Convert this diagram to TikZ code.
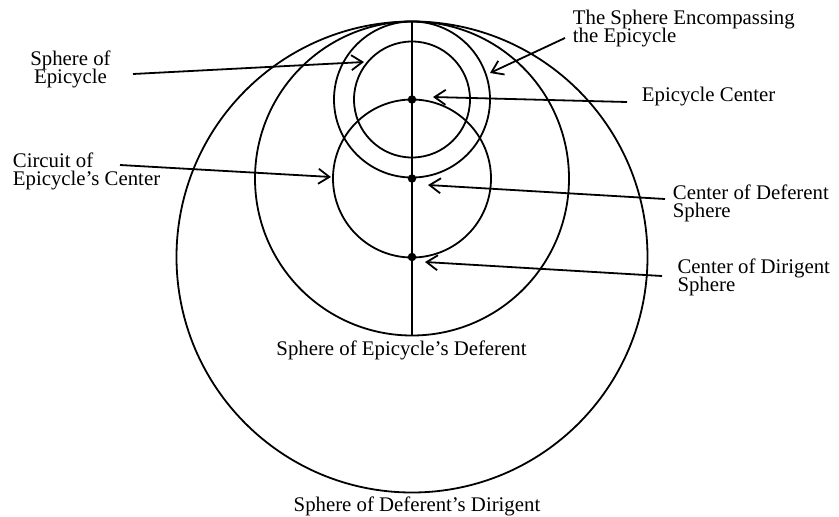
\documentclass[tikz,border=0pt]{standalone}
\usepackage{fontspec}
\setmainfont{Liberation Serif}
\usetikzlibrary{arrows.meta}
\lineskiplimit=-20pt
\begin{document}
\begin{tikzpicture}[x=1pt,y=-1pt,
  orb/.style={line width=1.8pt},
  lbl/.style={inner sep=0pt, font=\fontsize{20.8}{18}\selectfont},
  ptr/.style={line width=1.8pt, -{Straight Barb[length=11pt,width=15pt]}},
  dotm/.style={circle, fill, inner sep=0pt, minimum size=8.5pt}]
\useasboundingbox (0,0) rectangle (839,517);
\fill[white] (0,0) rectangle (839,517);
% centres
\coordinate (top) at (412,21.5);
\coordinate (bot) at (412,335);
\coordinate (ecc) at (412,99.5);
\coordinate (dcc) at (412,178.5);
\coordinate (gcc) at (412,257);
% circles
\draw[orb] (gcc) circle[radius=235.5pt];
\draw[orb] (dcc) circle[radius=157pt];
\draw[orb] (dcc) circle[radius=79pt];
\draw[orb] (ecc) circle[radius=78pt];
\draw[orb] (ecc) circle[radius=58pt];
\draw[orb] (top) -- (bot);
% centre dots
\node[dotm] (ec) at (ecc) {};
\node[dotm] (dc) at (dcc) {};
\node[dotm] (gc) at (gcc) {};
% labels (multi-line: anchor on last baseline)
\node[lbl, align=center, anchor=base] (l1) at (70.5,83.3) {Sphere of\\Epicycle};
\node[lbl, align=left, anchor=base west] (l2) at (572.7,42.7) {The Sphere Encompassing\\the Epicycle};
\node[lbl, anchor=base west] (l3) at (641.7,101.7) {Epicycle Center};
\node[lbl, align=left, anchor=base west] (l4) at (12.7,185) {Circuit of\\Epicycle's Center};
\node[lbl, align=left, anchor=base west] (l5) at (672.7,217.3) {Center of Deferent\\Sphere};
\node[lbl, align=left, anchor=base west] (l6) at (677.3,291) {Center of Dirigent\\Sphere};
\node[lbl, anchor=base] (l7) at (401.5,355) {Sphere of Epicycle's Deferent};
\node[lbl, anchor=base] (l8) at (417,511.7) {Sphere of Deferent's Dirigent};
% pointer ends
\coordinate (a1s) at (133,74);   \coordinate (a1e) at (364,62);
\coordinate (a2s) at (565,38);   \coordinate (a2e) at (490,73);
\coordinate (a3s) at (627,102);  \coordinate (a3e) at (433,97);
\coordinate (a4s) at (120,165);  \coordinate (a4e) at (331,177);
\coordinate (a5s) at (665,199);  \coordinate (a5e) at (428,185);
\coordinate (a6s) at (662,276);  \coordinate (a6e) at (425,262);
\draw[ptr] (a1s) -- (a1e);
\draw[ptr] (a2s) -- (a2e);
\draw[ptr] (a3s) -- (a3e);
\draw[ptr] (a4s) -- (a4e);
\draw[ptr] (a5s) -- (a5e);
\draw[ptr] (a6s) -- (a6e);
\end{tikzpicture}
\end{document}
